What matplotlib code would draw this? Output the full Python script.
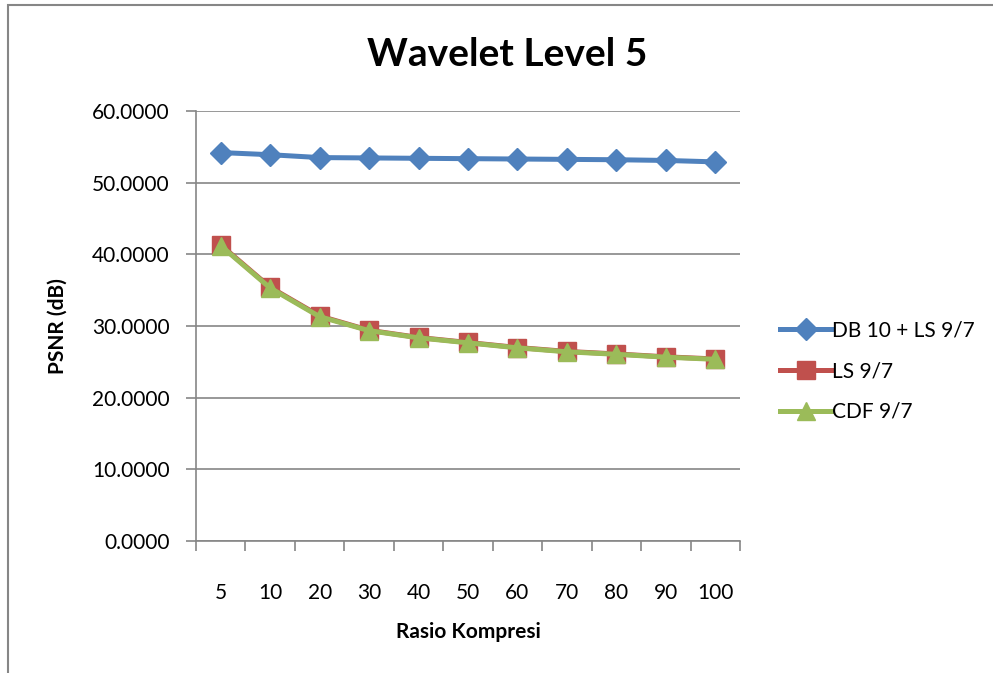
import matplotlib
matplotlib.use("Agg")
import matplotlib.pyplot as plt
from matplotlib.patches import Rectangle
from matplotlib.ticker import FixedLocator, FuncFormatter

plt.rcParams['font.family'] = ['Lato', 'DejaVu Sans']

# compression ratios and PSNR (dB) per method, wavelet level 5
rasio = ['5', '10', '20', '30', '40', '50', '60', '70', '80', '90', '100']
db10_ls97 = [54.2, 53.9, 53.5, 53.45, 53.4, 53.35, 53.3, 53.25, 53.2, 53.1, 52.9]
ls97 = [41.3, 35.4, 31.4, 29.4, 28.4, 27.7, 27.0, 26.45, 26.1, 25.7, 25.4]
cdf97 = [41.2, 35.3, 31.3, 29.35, 28.35, 27.65, 26.95, 26.4, 26.05, 25.65, 25.35]

fig = plt.figure(figsize=(9.93, 6.73), dpi=100)
fig.patch.set_facecolor('white')
ax = fig.add_axes([196 / 993, 1 - 541 / 673, (740 - 196) / 993, (541 - 111) / 673])

x = range(len(rasio))
ax.plot(x, db10_ls97, color='#4F81BD', lw=3.6, marker='D', ms=11,
        label='DB 10 + LS 9/7', zorder=3)
ax.plot(x, ls97, color='#C0504D', lw=3.6, marker='s', ms=12.5,
        label='LS 9/7', zorder=4)
ax.plot(x, cdf97, color='#9BBB59', lw=3.6, marker='^', ms=13,
        label='CDF 9/7', zorder=5)

ax.set_xlim(-0.5, len(rasio) - 0.5)
ax.set_ylim(0, 60)
ax.set_yticks(range(0, 61, 10))
ax.yaxis.set_major_formatter(FuncFormatter(lambda v, p: f'{v:.4f}'))
ax.grid(axis='y', color='#868686', lw=1.2)
ax.set_axisbelow(True)

# tick marks between categories, labels centred on each category
ax.xaxis.set_major_locator(FixedLocator([i - 0.5 for i in range(len(rasio) + 1)]))
ax.xaxis.set_major_formatter(FuncFormatter(lambda v, p: ''))
ax.xaxis.set_minor_locator(FixedLocator(list(x)))
ax.set_xticklabels(rasio, minor=True)
ax.tick_params(axis='x', which='minor', length=0, pad=30, labelsize=15)
ax.tick_params(axis='x', which='major', length=7, color='#868686', width=1.2)
ax.tick_params(axis='y', length=7, color='#868686', width=1.2, pad=12, labelsize=15)

for side in ['top', 'right']:
    ax.spines[side].set_visible(False)
for side in ['left', 'bottom']:
    ax.spines[side].set_color('#868686')
    ax.spines[side].set_linewidth(1.2)

fig.text(507 / 993, 1 - 55 / 673, 'Wavelet Level 5', ha='center', va='center',
         fontsize=28, fontweight='bold')
fig.text(58 / 993, 1 - 326 / 673, 'PSNR (dB)', ha='center', va='center',
         rotation=90, fontsize=15, fontweight='bold')
fig.text(468 / 993, 1 - 632 / 673, 'Rasio Kompresi', ha='center', va='center',
         fontsize=15, fontweight='bold')

ax.legend(loc='upper left', bbox_to_anchor=(772 / 993, 1 - 312 / 673),
          bbox_transform=fig.transFigure, frameon=False, fontsize=15,
          handlelength=2.5, handletextpad=0.0, labelspacing=1.0,
          borderaxespad=0)

# chart area outline
fig.patches.append(Rectangle((8 / 993, -0.1), 1.2, 1 - 5 / 673 + 0.1,
                             transform=fig.transFigure, fill=False,
                             edgecolor='#868686', lw=1.5))

fig.savefig('out.png', dpi=100)
